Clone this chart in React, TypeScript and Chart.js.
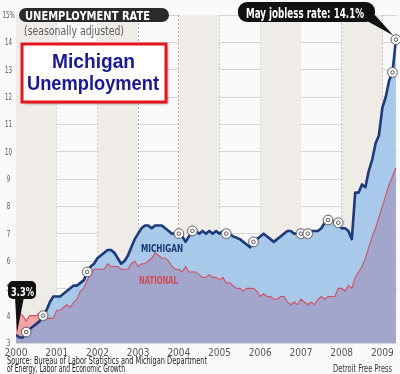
import React, { useEffect, useRef } from 'react';
import { Chart, registerables } from 'chart.js';

Chart.register(...registerables);

const COND = "'Liberation Sans Narrow', 'DejaVu Sans Condensed', 'Roboto Condensed', 'Liberation Sans', sans-serif";
const ARIAL = "'Liberation Sans', Arial, sans-serif";

const startYear = 2000;
const yearTicks = [2000, 2001, 2002, 2003, 2004, 2005, 2006, 2007, 2008, 2009];
const shadedYears = [2000, 2002, 2004, 2006, 2008];
const xMax = 2009.36;
const yMin = 3;
const yMax = 15;

// Michigan, monthly Jan 2000 – May 2009
const michigan = [
  3.3, 3.2, 3.2, 3.4, 3.5, 3.6, 3.7, 3.8, 4.0, 4.2, 4.5, 4.7,
  4.7, 4.7, 4.8, 4.9, 5.0, 5.1, 5.1, 5.2, 5.3, 5.6, 5.8, 5.9,
  6.1, 6.2, 6.3, 6.4, 6.4, 6.3, 6.1, 5.9, 6.0, 6.2, 6.5, 6.8,
  7.0, 7.2, 7.3, 7.3, 7.2, 7.3, 7.3, 7.3, 7.2, 7.1, 7.0, 7.0,
  7.0, 6.9, 6.7, 6.9, 7.1, 7.1, 7.0, 7.1, 7.0, 7.1, 7.0, 7.1,
  7.0, 7.1, 7.0, 7.0, 6.9, 6.85, 6.8, 6.7, 6.6, 6.5, 6.7, 6.8,
  6.9, 7.0, 6.9, 6.8, 6.7, 6.8, 6.9, 7.0, 7.1, 7.1, 7.0, 7.0,
  7.0, 7.0, 7.0, 7.1, 7.1, 7.1, 7.2, 7.4, 7.5, 7.5, 7.4, 7.4,
  7.2, 7.2, 7.1, 6.8, 8.5, 8.5, 8.8, 8.7, 9.3, 9.7, 10.3, 10.6,
  11.6, 12.0, 12.6, 12.9, 14.1,
];

// National, monthly Jan 2000 – May 2009
const national = [
  4.0, 4.1, 4.0, 3.8, 4.0, 4.0, 4.0, 4.1, 3.9, 3.9, 3.9, 3.9,
  4.2, 4.2, 4.3, 4.4, 4.3, 4.5, 4.6, 4.9, 5.0, 5.3, 5.5, 5.7,
  5.7, 5.7, 5.7, 5.9, 5.8, 5.8, 5.8, 5.7, 5.7, 5.7, 5.9, 6.0,
  5.8, 5.9, 5.9, 6.0, 6.1, 6.3, 6.2, 6.1, 6.1, 6.0, 5.8, 5.7,
  5.7, 5.6, 5.8, 5.6, 5.6, 5.6, 5.5, 5.4, 5.4, 5.5, 5.4, 5.4,
  5.3, 5.4, 5.2, 5.2, 5.1, 5.0, 5.0, 4.9, 5.0, 5.0, 5.0, 4.9,
  4.7, 4.8, 4.7, 4.7, 4.6, 4.6, 4.7, 4.7, 4.5, 4.4, 4.5, 4.4,
  4.6, 4.5, 4.4, 4.5, 4.4, 4.6, 4.7, 4.6, 4.7, 4.7, 4.7, 5.0,
  5.0, 4.9, 5.1, 5.0, 5.4, 5.6, 5.8, 6.1, 6.5, 6.9, 7.2, 7.6,
  8.0, 8.4, 8.8, 9.1, 9.4,
];

const markerIndex = [3, 8, 21, 48, 52, 62, 70, 84, 86, 92, 95, 111, 112];

const titleText = 'UNEMPLOYMENT RATE';
const subtitleText = '(seasonally adjusted)';
const boxLine1 = 'Michigan';
const boxLine2 = 'Unemployment';
const calloutLast = 'May jobless rate: 14.1%';
const calloutFirst = '3.3%';
const michiganLabel = 'MICHIGAN';
const nationalLabel = 'NATIONAL';
const sourceLine1 = 'Source: Bureau of Labor Statistics and Michigan Department';
const sourceLine2 = 'of Energy, Labor and Economic Growth';
const creditText = 'Detroit Free Press';

const toPoints = (vals: number[]) => vals.map((y, i) => ({ x: startYear + i / 12, y }));
const yLabel = (v: number) => (v === yMax ? `${v}%` : String(v));

function rr(ctx: CanvasRenderingContext2D, x: number, y: number, w: number, h: number, r: number) {
  ctx.beginPath();
  ctx.moveTo(x + r, y);
  ctx.lineTo(x + w - r, y);
  ctx.arcTo(x + w, y, x + w, y + r, r);
  ctx.lineTo(x + w, y + h - r);
  ctx.arcTo(x + w, y + h, x + w - r, y + h, r);
  ctx.lineTo(x + r, y + h);
  ctx.arcTo(x, y + h, x, y + h - r, r);
  ctx.lineTo(x, y + r);
  ctx.arcTo(x, y, x + r, y, r);
  ctx.closePath();
}

function fitText(ctx: CanvasRenderingContext2D, text: string, x: number, baseline: number, width: number,
  size: number, weight: string, color: string, family: string = COND) {
  ctx.save();
  ctx.font = `${weight} ${size}px ${family}`;
  const w = ctx.measureText(text).width;
  ctx.translate(x, baseline);
  ctx.scale(width / w, 1);
  ctx.fillStyle = color;
  ctx.textAlign = 'left';
  ctx.textBaseline = 'alphabetic';
  ctx.fillText(text, 0, 0);
  ctx.restore();
}

const backdrop = {
  id: 'backdrop',
  beforeDraw(chart: any) {
    const ctx = chart.ctx;
    ctx.save();
    ctx.fillStyle = '#fafafa';
    ctx.fillRect(0, 0, chart.width, chart.height);
    ctx.restore();
  },
  beforeDatasetsDraw(chart: any) {
    const ctx = chart.ctx;
    const { top, bottom, left, right } = chart.chartArea;
    const xs = chart.scales.x;
    ctx.save();
    ctx.fillStyle = '#efebe6';
    shadedYears.forEach((yr) => {
      const a = Math.max(left, xs.getPixelForValue(yr));
      const b = Math.min(right, xs.getPixelForValue(yr + 1));
      ctx.fillRect(a, top, b - a, bottom - top);
    });
    ctx.restore();
  },
};

const overlay = {
  id: 'overlay',
  afterDraw(chart: any) {
    const ctx: CanvasRenderingContext2D = chart.ctx;
    const meta = chart.getDatasetMeta(4);

    // y tick labels (narrow, centred in the axis gutter)
    const ys = chart.scales.y;
    ys.ticks.forEach((t: any) => {
      const label = yLabel(t.value);
      const py = ys.getPixelForValue(t.value);
      ctx.save();
      ctx.font = `normal 8.5px ${COND}`;
      const w = ctx.measureText(label).width * 0.72;
      ctx.restore();
      fitText(ctx, label, 8.5 - w / 2, py + 3, w, 8.5, 'normal', '#555555');
    });

    // markers on Michigan line
    markerIndex.forEach((i) => {
      const el = meta.data[i];
      if (!el) return;
      ctx.save();
      ctx.shadowColor = 'rgba(0,0,0,0.35)';
      ctx.shadowBlur = 2;
      ctx.beginPath();
      ctx.arc(el.x, el.y, 4.8, 0, Math.PI * 2);
      ctx.fillStyle = '#ffffff';
      ctx.fill();
      ctx.shadowColor = 'transparent';
      ctx.lineWidth = 1;
      ctx.strokeStyle = '#6a6a6a';
      ctx.stroke();
      ctx.beginPath();
      ctx.arc(el.x, el.y, 1.8, 0, Math.PI * 2);
      ctx.lineWidth = 1;
      ctx.strokeStyle = '#555';
      ctx.stroke();
      ctx.restore();
    });

    // headline pill
    ctx.save();
    rr(ctx, 19, 8, 150, 14, 7);
    ctx.fillStyle = '#2a2a2a';
    ctx.fill();
    ctx.restore();
    fitText(ctx, titleText, 25, 19.5, 125, 12.5, 'bold', '#ffffff');
    fitText(ctx, subtitleText, 24, 34.5, 100, 11.5, 'normal', '#5e5e5e');

    // red box
    ctx.save();
    ctx.shadowColor = 'rgba(0,0,0,0.45)';
    ctx.shadowBlur = 3;
    ctx.shadowOffsetX = 1.5;
    ctx.shadowOffsetY = 1.5;
    ctx.fillStyle = '#ffffff';
    ctx.fillRect(22, 44, 144, 58);
    ctx.shadowColor = 'transparent';
    ctx.lineWidth = 3;
    ctx.strokeStyle = '#e8141c';
    ctx.strokeRect(22, 44, 144, 58);
    ctx.restore();
    fitText(ctx, boxLine1, 52, 68, 83, 21, 'bold', '#16169e', ARIAL);
    fitText(ctx, boxLine2, 27, 90, 132, 21, 'bold', '#16169e', ARIAL);

    // last-value callout
    const last = meta.data[michigan.length - 1];
    ctx.save();
    ctx.fillStyle = '#111111';
    ctx.beginPath();
    ctx.moveTo(367, 21);
    ctx.lineTo(375, 15);
    ctx.lineTo(last.x - 2.5, last.y - 4);
    ctx.closePath();
    ctx.fill();
    rr(ctx, 238, 2, 137, 20, 9);
    ctx.fill();
    ctx.restore();
    fitText(ctx, calloutLast, 246, 17.5, 118, 13.5, 'bold', '#ffffff');

    // first-value callout
    const first = meta.data[0];
    ctx.save();
    ctx.fillStyle = '#111111';
    ctx.beginPath();
    ctx.moveTo(15, 297);
    ctx.lineTo(24, 297);
    ctx.lineTo(first.x + 1, first.y - 2);
    ctx.closePath();
    ctx.fill();
    rr(ctx, 8, 281, 28, 18, 5);
    ctx.fill();
    ctx.restore();
    fitText(ctx, calloutFirst, 11, 296, 23, 12.5, 'bold', '#ffffff');

    // series labels
    fitText(ctx, michiganLabel, 141, 252, 42, 10.5, 'bold', '#1b3570');
    fitText(ctx, nationalLabel, 139, 284, 39, 10.5, 'bold', '#d04a55');

    // footer
    fitText(ctx, sourceLine1, 7, 363.5, 200, 11, 'normal', '#222222');
    fitText(ctx, sourceLine2, 7, 371.5, 118, 11, 'normal', '#222222');
    fitText(ctx, creditText, 333, 371.5, 59, 11, 'normal', '#333333');
  },
};

export default function App() {
  const ref = useRef<HTMLCanvasElement>(null);

  useEffect(() => {
    document.body.style.margin = '0';
    if (!ref.current) return;
    const miPts = toPoints(michigan);
    const natPts = toPoints(national);
    const chart = new Chart(ref.current, {
      type: 'line',
      data: {
        datasets: [
          { data: miPts, fill: 'start', backgroundColor: '#a8c9e9', borderWidth: 0, pointRadius: 0, order: 5 },
          { data: natPts, fill: 'start', backgroundColor: '#a3a6cc', borderWidth: 0, pointRadius: 0, order: 4 },
          { data: natPts, fill: { target: 0, above: '#f2a4a6', below: 'rgba(0,0,0,0)' }, borderWidth: 0, pointRadius: 0, order: 3 },
          { data: natPts, fill: false, borderColor: '#d2505e', borderWidth: 1.1, pointRadius: 0, order: 2 },
          { data: miPts, fill: false, borderColor: '#1c3b7a', borderWidth: 2.6, pointRadius: 0, borderJoinStyle: 'round', order: 1 },
        ],
      } as any,
      options: {
        responsive: false,
        animation: false,
        devicePixelRatio: 1,
        layout: { padding: { top: 15, right: 3, left: 0, bottom: 0 } },
        elements: { line: { tension: 0 } },
        plugins: { legend: { display: false }, tooltip: { enabled: false } },
        scales: {
          x: {
            type: 'linear',
            min: startYear,
            max: xMax,
            z: 1,
            afterFit: (s: any) => { s.height = 31; },
            afterBuildTicks: (s: any) => { s.ticks = yearTicks.map((v) => ({ value: v })); },
            ticks: {
              stepSize: 1,
              includeBounds: false,
              autoSkip: false,
              maxRotation: 0,
              padding: 4,
              color: '#555555',
              font: { size: 10, family: COND },
              callback: (v: any) => String(v),
            },
            grid: { color: 'rgba(90,90,90,0.5)', lineWidth: 1, drawTicks: false },
            border: { display: false, dash: [2, 2] },
          },
          y: {
            min: yMin,
            max: yMax,
            z: 1,
            afterFit: (s: any) => { s.width = 16; },
            ticks: {
              stepSize: 1,
              display: false,
              callback: (v: any) => yLabel(v),
            },
            grid: { color: 'rgba(0,0,0,0.14)', lineWidth: 1, drawTicks: false },
            border: { display: false },
          },
        },
      } as any,
      plugins: [backdrop, overlay],
    });
    return () => chart.destroy();
  }, []);

  return <canvas ref={ref} width={400} height={374} style={{ display: 'block' }} />;
}
